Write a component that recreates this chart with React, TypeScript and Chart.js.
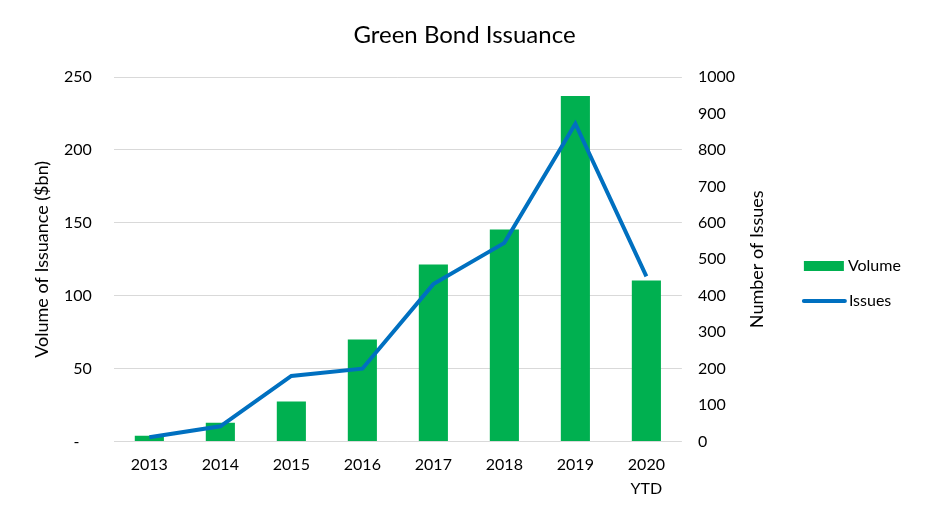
import React, { useEffect, useRef } from "react";
import { Chart, registerables } from "chart.js";

Chart.register(...registerables);

const categories: (string | string[])[] = ["2013", "2014", "2015", "2016", "2017", "2018", "2019", ["2020", "YTD"]];
const volume = [4, 13, 27.5, 70, 121.5, 145.5, 237, 110.5];
const issues = [12, 42, 180, 200, 432, 545, 872, 453];
const chartTitle = "Green Bond Issuance";
const leftTitle = "Volume of Issuance ($bn)";
const rightTitle = "Number of Issues";

const FONT = "Lato, 'Open Sans', sans-serif";

const decorPlugin = {
  id: "decor",
  afterDraw(chart: any) {
    const ctx = chart.ctx;
    const area = chart.chartArea;
    const midY = (area.top + area.bottom) / 2;
    ctx.save();
    ctx.fillStyle = "#000";
    ctx.font = `24px ${FONT}`;
    ctx.textAlign = "center";
    ctx.textBaseline = "middle";
    ctx.fillText(chartTitle, chart.width / 2, 35);
    // Axis titles (read bottom-to-top)
    ctx.font = `18px ${FONT}`;
    ctx.save();
    ctx.translate(42, midY);
    ctx.rotate(-Math.PI / 2);
    ctx.fillText(leftTitle, 0, 0);
    ctx.restore();
    ctx.save();
    ctx.translate(area.right + 75, midY);
    ctx.rotate(-Math.PI / 2);
    ctx.fillText(rightTitle, 0, 0);
    ctx.restore();
    // Legend
    const x0 = area.right + 122;
    const ds = chart.data.datasets;
    ctx.font = `16px ${FONT}`;
    ctx.textAlign = "left";
    ctx.fillStyle = ds[0].backgroundColor;
    ctx.fillRect(x0, 261, 40, 10);
    ctx.fillStyle = "#000";
    ctx.fillText(ds[0].label, x0 + 44, 266);
    ctx.strokeStyle = ds[1].borderColor;
    ctx.lineWidth = 4;
    ctx.lineCap = "round";
    ctx.beginPath();
    ctx.moveTo(x0, 301);
    ctx.lineTo(x0 + 41, 301);
    ctx.stroke();
    ctx.fillText(ds[1].label, x0 + 45, 301);
    ctx.restore();
  },
};

export default function App() {
  const ref = useRef<HTMLCanvasElement>(null);
  useEffect(() => {
    if (!ref.current) return;
    const chart = new Chart(ref.current, {
      type: "bar",
      data: {
        labels: categories,
        datasets: [
          {
            type: "bar",
            label: "Volume",
            data: volume,
            backgroundColor: "#00B050",
            yAxisID: "y",
            barPercentage: 0.41,
            categoryPercentage: 1,
            order: 2,
          },
          {
            type: "line",
            label: "Issues",
            data: issues,
            borderColor: "#0070C0",
            backgroundColor: "#0070C0",
            borderWidth: 4,
            pointRadius: 0,
            tension: 0,
            yAxisID: "y1",
            order: 1,
          } as any,
        ],
      },
      options: {
        animation: false,
        responsive: true,
        maintainAspectRatio: false,
        layout: { padding: { left: 42, right: 178, top: 77, bottom: 1 } },
        plugins: {
          legend: { display: false },
          tooltip: { enabled: false },
          title: { display: false },
        },
        scales: {
          x: {
            grid: { display: false, drawTicks: false },
            border: { display: false },
            ticks: {
              color: "#000",
              font: { family: FONT, size: 16, lineHeight: 1.45 },
              padding: 12,
              maxRotation: 0,
            },
          },
          y: {
            position: "left",
            min: 0,
            max: 250,
            grid: { color: "#D9D9D9", drawTicks: false, lineWidth: 1 },
            border: { display: false },
            ticks: {
              stepSize: 50,
              color: "#000",
              font: { family: FONT, size: 16 },
              padding: 22,
              callback: (v: any) => (v === 0 ? "-   " : String(v)),
            },
          },
          y1: {
            position: "right",
            min: 0,
            max: 1000,
            grid: { display: false, drawTicks: false },
            border: { display: false },
            ticks: {
              stepSize: 100,
              color: "#000",
              font: { family: FONT, size: 16 },
              padding: 16,
              callback: (v: any) => String(v),
            },
          },
        },
      },
      plugins: [decorPlugin],
    });
    return () => chart.destroy();
  }, []);
  return (
    <div style={{ position: "fixed", left: 0, top: 0, width: 929, height: 513, background: "#fff" }}>
      <canvas ref={ref} />
    </div>
  );
}
